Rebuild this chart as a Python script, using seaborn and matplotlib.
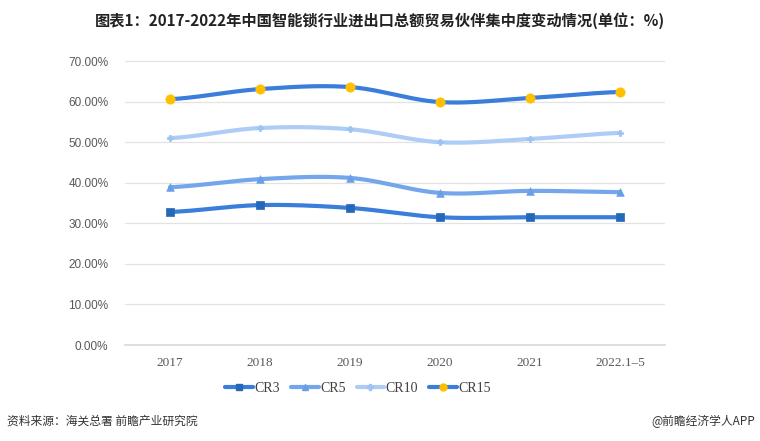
import numpy as np
import pandas as pd
import matplotlib
matplotlib.use("Agg")
import matplotlib.pyplot as plt
import seaborn as sns
from matplotlib.lines import Line2D

categories = ["2017", "2018", "2019", "2020", "2021", "2022.1\u20135"]
cr3 = [32.8, 34.5, 33.8, 31.5, 31.5, 31.5]
cr5 = [38.9, 40.9, 41.2, 37.5, 38.0, 37.7]
cr10 = [51.0, 53.5, 53.2, 50.0, 50.8, 52.3]
cr15 = [60.6, 63.1, 63.6, 59.9, 60.9, 62.4]
y_ticks = [0, 10, 20, 30, 40, 50, 60, 70]

series = {"CR3": cr3, "CR5": cr5, "CR10": cr10, "CR15": cr15}
line_colors = {"CR3": "#3A7DDA", "CR5": "#74A6EC", "CR10": "#ADCDF6", "CR15": "#3A7DDA"}
marker_colors = {"CR3": "#2468B8", "CR5": "#6A9FE8", "CR10": "#9EC3F2", "CR15": "#FFC000"}
markers = {"CR3": "s", "CR5": "^", "CR10": "P", "CR15": "o"}
msize = {"CR3": 28, "CR5": 30, "CR10": 14, "CR15": 45}


def catmull_rom(y, n=40, tension=0.5):
    y = np.asarray(y, dtype=float)
    x = np.arange(len(y), dtype=float)
    xs, ys = [], []
    for i in range(len(y) - 1):
        y0 = y[i - 1] if i > 0 else y[i]
        y3 = y[i + 2] if i + 2 < len(y) else y[i + 1]
        m1 = tension * (y[i + 1] - y0)
        m2 = tension * (y3 - y[i])
        t = np.linspace(0, 1, n, endpoint=False)
        h00 = 2 * t**3 - 3 * t**2 + 1
        h10 = t**3 - 2 * t**2 + t
        h01 = -2 * t**3 + 3 * t**2
        h11 = t**3 - t**2
        xs.append(x[i] + t)
        ys.append(h00 * y[i] + h10 * m1 + h01 * y[i + 1] + h11 * m2)
    xs.append([x[-1]])
    ys.append([y[-1]])
    return np.concatenate(xs), np.concatenate(ys)


rows = []
for name, vals in series.items():
    xs, ys = catmull_rom(vals)
    for a, b in zip(xs, ys):
        rows.append({"x": a, "y": b, "series": name})
smooth_df = pd.DataFrame(rows)
pts_df = pd.DataFrame([{"x": i, "y": v, "series": name}
                       for name, vals in series.items() for i, v in enumerate(vals)])

sns.set_theme(style="white")
plt.rcParams["font.family"] = ["Noto Sans CJK SC", "DejaVu Sans"]

fig = plt.figure(figsize=(7.6, 4.41), dpi=100)
ax = fig.add_axes([125 / 760, 1 - 345 / 441, 540 / 760, (345 - 53) / 441])

for name in series:
    sub = smooth_df[smooth_df.series == name]
    sns.lineplot(data=sub, x="x", y="y", ax=ax, color=line_colors[name],
                 linewidth=3.0, sort=False, estimator=None, legend=False)
    psub = pts_df[pts_df.series == name]
    sns.scatterplot(data=psub, x="x", y="y", ax=ax, marker=markers[name],
                    color=marker_colors[name], s=msize[name], edgecolor=marker_colors[name],
                    linewidth=0.5, legend=False, zorder=5)

ax.set_xlim(-0.5, 5.5)
ax.set_ylim(0, 72)
ax.set_yticks(y_ticks)
ax.set_yticklabels([f"{v:.2f}%" for v in y_ticks], fontsize=8.5, color="#595959",
                   family=["Liberation Sans"])
ax.set_xticks(range(len(categories)))
ax.set_xticklabels(categories, fontsize=9.5, color="#595959", family=["Liberation Serif"])
ax.tick_params(axis="both", length=0)
ax.tick_params(axis="x", pad=9)
ax.tick_params(axis="y", pad=12)
ax.grid(axis="y", color="#E3E3E3", linewidth=0.9)
ax.set_axisbelow(True)
for s in ["top", "right", "left"]:
    ax.spines[s].set_visible(False)
ax.spines["bottom"].set_color("#D9D9D9")
ax.set_xlabel("")
ax.set_ylabel("")

handles = []
for name in series:
    handles.append(Line2D([0], [0], color=line_colors[name], linewidth=3,
                          marker=markers[name], markersize=5 if name != "CR10" else 4,
                          markerfacecolor=marker_colors[name],
                          markeredgecolor=marker_colors[name]))
leg = fig.legend(handles, list(series.keys()), loc="center", bbox_to_anchor=(358 / 760, 1 - 388 / 441),
                 ncol=4, frameon=False, handlelength=2.0, handletextpad=0.1, columnspacing=0.8,
                 prop={"family": "Liberation Serif", "size": 10})
for t in leg.get_texts():
    t.set_color("#404040")

fig.text(380 / 760, 1 - 21 / 441, "图表1：2017-2022年中国智能锁行业进出口总额贸易伙伴集中度变动情况(单位：%)",
         ha="center", va="center", fontsize=11, fontweight="bold", color="#222222")
fig.text(7 / 760, 1 - 421 / 441, "资料来源：海关总署 前瞻产业研究院", ha="left", va="center",
         fontsize=8.5, color="#333333")
fig.text(755 / 760, 1 - 421 / 441, "@前瞻经济学人APP", ha="right", va="center",
         fontsize=8.5, color="#333333")

fig.savefig("out.png", dpi=100)
